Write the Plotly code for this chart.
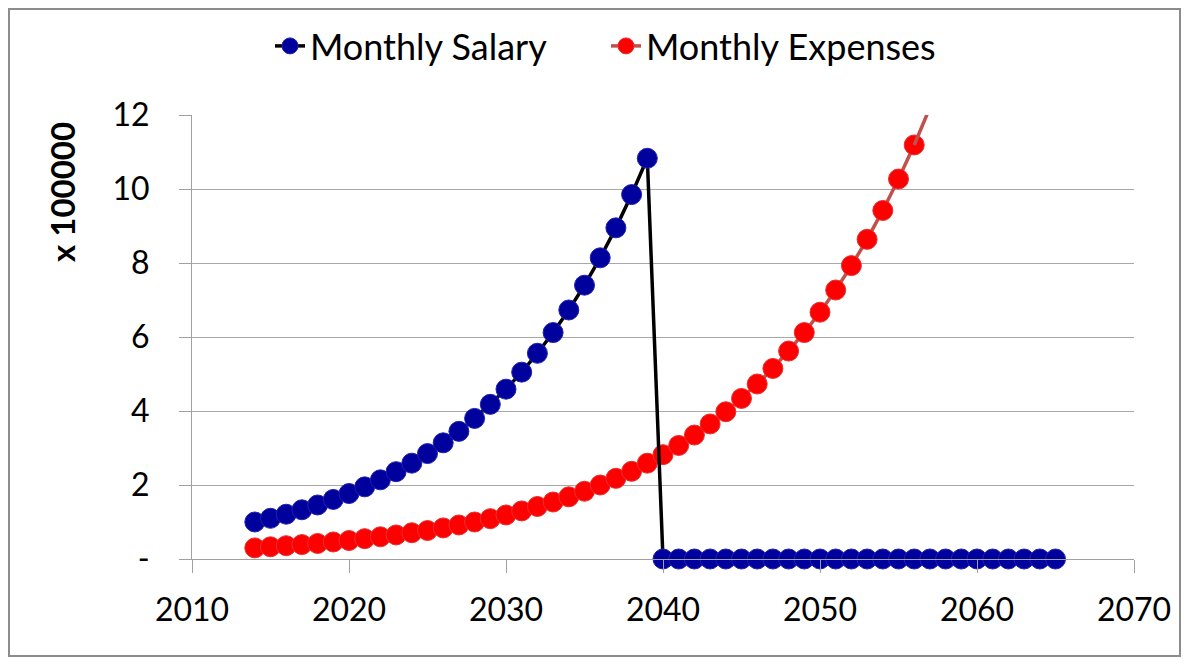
import plotly.graph_objects as go

# values in units of 100000, one point per year
salary_years = list(range(2014, 2066))
salary = [1.00, 1.10, 1.21, 1.33, 1.46, 1.61, 1.77, 1.95, 2.14, 2.36, 2.59, 2.85, 3.14,
          3.45, 3.80, 4.18, 4.59, 5.05, 5.56, 6.12, 6.73, 7.40, 8.14, 8.95, 9.85, 10.83,
          0, 0, 0, 0, 0, 0, 0, 0, 0, 0, 0, 0, 0, 0, 0, 0, 0, 0, 0, 0, 0, 0, 0, 0, 0, 0]

expense_years = list(range(2014, 2058))
expenses = [0.30, 0.33, 0.36, 0.39, 0.42, 0.46, 0.50, 0.55, 0.60, 0.65, 0.71, 0.77,
            0.84, 0.92, 1.00, 1.09, 1.19, 1.30, 1.42, 1.54, 1.68, 1.83, 2.00, 2.18,
            2.37, 2.59, 2.82, 3.07, 3.35, 3.65, 3.98, 4.34, 4.73, 5.15, 5.62, 6.12,
            6.67, 7.27, 7.93, 8.64, 9.42, 10.27, 11.19, 12.20]

y_ticks = [0, 2, 4, 6, 8, 10, 12]
y_ticktext = ["-", "2", "4", "6", "8", "10", "12"]

FONT = "Lato"
OFF = 8  # page body margin
W, H = 1189 - 2 * OFF, 665 - 2 * OFF
# plot area in page pixels: x 192..1134, y 115..559
L, T = 192 - OFF, 115 - OFF
R, B = W - (1134 - OFF), H - (559 - OFF)

# points above the axis top: line only (Excel clips them)
ymax = 12
inside = [i for i, v in enumerate(expenses) if v <= ymax]
last_in = inside[-1]

fig = go.Figure()

fig.add_trace(go.Scatter(
    x=expense_years[:last_in + 1], y=expenses[:last_in + 1], mode="lines+markers",
    name="Monthly Expenses", legend="legend2", cliponaxis=False,
    line=dict(color="#c0504d", width=3.5),
    marker=dict(color="#ff0000", size=20, line=dict(color="#e83030", width=1))
))
fig.add_trace(go.Scatter(
    x=expense_years[last_in:], y=expenses[last_in:], mode="lines",
    showlegend=False, line=dict(color="#c0504d", width=3.5)
))
fig.add_trace(go.Scatter(
    x=salary_years, y=salary, mode="lines+markers",
    name="Monthly Salary", legend="legend", cliponaxis=False,
    line=dict(color="black", width=3.5),
    marker=dict(color="#00009c", size=20, line=dict(color="#2020b0", width=1))
))

def px_x(p):
    return (p - OFF - L) / (W - L - R)

def px_y(p):
    return (H - B - (p - OFF)) / (H - T - B)

# outer chart frame (kept just inside the figure)
fig.add_shape(type="rect", xref="paper", yref="paper",
              x0=px_x(9), x1=px_x(1180), y0=px_y(656), y1=px_y(9),
              line=dict(color="#8c8c8c", width=2), layer="below")

fig.add_annotation(text="<b>x 100000</b>", textangle=-90, xref="paper", yref="paper",
                   x=px_x(62), y=px_y(192), xanchor="center", yanchor="middle", showarrow=False,
                   font=dict(family=FONT, size=33, color="black"))

legend_style = dict(orientation="h", yanchor="middle", y=px_y(46), xanchor="left",
                    font=dict(family=FONT, size=36, color="black"), itemwidth=30,
                    bgcolor="rgba(0,0,0,0)")

fig.update_layout(
    width=W, height=H,
    margin=dict(l=L, r=R, t=T, b=B, autoexpand=False),
    plot_bgcolor="white", paper_bgcolor="white",
    font=dict(family=FONT, color="black"),
    showlegend=True,
    legend=dict(legend_style, x=px_x(270)),
    legend2=dict(legend_style, x=px_x(606)),
)

fig.update_xaxes(range=[2010, 2070], tickvals=list(range(2010, 2071, 10)),
                 showgrid=False, zeroline=False, showline=True, linecolor="#a0a0a0", linewidth=1,
                 ticks="outside", ticklen=13, tickcolor="#a0a0a0",
                 tickfont=dict(family=FONT, size=32, color="black"), ticklabelstandoff=10)
fig.update_yaxes(range=[0, 12], tickvals=y_ticks, ticktext=y_ticktext,
                 showgrid=True, gridcolor="#a8a8a8", gridwidth=1, zeroline=False,
                 showline=True, linecolor="#a0a0a0", linewidth=1,
                 ticks="outside", ticklen=12, tickcolor="#a0a0a0",
                 tickfont=dict(family=FONT, size=32, color="black"), ticklabelstandoff=23)

fig.write_html("out.html")
